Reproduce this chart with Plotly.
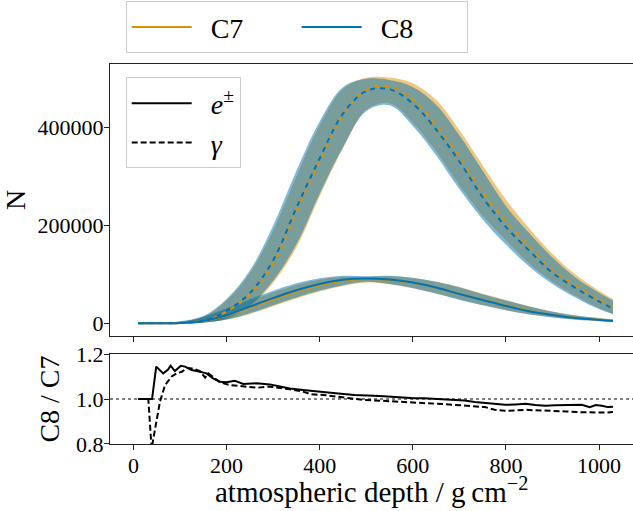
import plotly.graph_objects as go

# ---------------- data ----------------
depth = [10, 50, 100, 150, 200, 250, 300, 350, 400, 450, 500, 550,
         600, 650, 700, 750, 800, 850, 900, 950, 1000, 1030]

# photons (gamma) mean and band, C7 / C8
gamma_c7 = [0, 0, 760, 3800, 24200, 58400, 121700, 226500, 329700, 424500, 476000, 482400,
            455600, 404400, 339800, 266800, 207400, 155900, 108800, 76200, 47400, 31900]
gamma_c8 = [0, 0, 840, 4200, 25800, 61600, 128400, 235600, 336300, 427500, 474000, 477600,
            448400, 395600, 330300, 257300, 196700, 148200, 103200, 71900, 44600, 30100]
gamma_c7_hi = [0, 300, 2500, 12800, 46500, 102200, 188900, 299000, 404000, 478300, 501000, 501500,
               490000, 456000, 394500, 322800, 252600, 193800, 141700, 98900, 66500, 49400]
gamma_c7_lo = [0, 0, 190, 1600, 9300, 34600, 82300, 154900, 259400, 356800, 434900, 449200,
               409300, 350900, 281900, 220000, 169400, 122100, 84700, 55600, 30900, 19600]
gamma_c8_hi = [0, 300, 2700, 14200, 49500, 107800, 199200, 311100, 412100, 481700, 499000, 496500,
               482100, 446000, 383600, 311300, 239600, 184300, 134400, 93200, 62600, 46600]
gamma_c8_lo = [0, 0, 210, 1800, 9900, 36500, 86800, 161200, 264600, 359300, 433100, 444800,
               402800, 343200, 274100, 212100, 160700, 116000, 80400, 52400, 29100, 18400]

# electrons/positrons mean and band, C7 / C8
ele_c7 = [0, 0, 750, 4700, 15400, 31900, 48500, 64600, 77800, 87000, 90400, 88600,
          82900, 73000, 60200, 48400, 36500, 25300, 17200, 11200, 7100, 5100]
ele_c8 = [0, 0, 860, 5300, 16600, 34100, 51500, 67500, 80200, 89000, 91600, 89400,
          83100, 73000, 59900, 47600, 35500, 24700, 16800, 10800, 6900, 4900]
ele_c7_hi = [0, 530, 3450, 12600, 28700, 46200, 62800, 78300, 89300, 94900, 94700, 96000,
             92700, 84800, 73900, 60400, 47800, 34900, 24200, 16100, 10800, 7800]
ele_c7_lo = [0, 0, 180, 1600, 7200, 19100, 34700, 50600, 64800, 76300, 83500, 79500,
             71800, 60600, 48500, 37400, 27200, 18500, 12400, 7600, 4800, 3400]
ele_c8_hi = [0, 530, 3970, 14100, 30800, 49300, 66600, 81800, 92000, 97000, 96100, 97000,
             92900, 84800, 73500, 59400, 46600, 34100, 23600, 15700, 10400, 7600]
ele_c8_lo = [0, 0, 200, 1800, 7800, 20400, 36800, 52800, 66800, 77900, 84700, 80300,
             72000, 60600, 48300, 36800, 26500, 18100, 12000, 7400, 4600, 3200]

# ratio C8 / C7
ratio_e_depth = [13, 26, 36, 40, 49, 64, 74, 80, 89, 102, 111, 125, 143, 157, 171, 186, 200, 218,
                 236, 265, 293, 315, 336, 364, 385, 408, 430, 451, 475, 494, 515, 538, 560, 581,
                 603, 624, 646, 668, 690, 711, 733, 755, 776, 798, 820, 842, 863, 885, 906, 928,
                 950, 963, 980, 993, 1006, 1019, 1030]
ratio_e = [1.0, 1.0, 1.0, 1.0, 1.144, 1.114, 1.13, 1.148, 1.124, 1.148, 1.144, 1.129, 1.121, 1.114,
           1.092, 1.077, 1.074, 1.081, 1.067, 1.07, 1.065, 1.055, 1.047, 1.04, 1.035, 1.029, 1.025,
           1.022, 1.018, 1.015, 1.014, 1.012, 1.008, 1.004, 1.003, 1.003, 1.001, 1.0, 0.998, 0.993,
           0.987, 0.982, 0.978, 0.974, 0.976, 0.979, 0.973, 0.97, 0.972, 0.973, 0.974, 0.974, 0.964,
           0.973, 0.97, 0.964, 0.966]
ratio_g_depth = [10, 20, 32, 39, 50, 57, 68, 82, 93, 104, 115, 126, 143, 154, 161, 175, 186, 207,
                 236, 265, 293, 315, 336, 364, 382, 408, 430, 451, 473, 494, 516, 538, 560, 581,
                 603, 624, 646, 668, 690, 711, 733, 755, 776, 798, 820, 842, 863, 885, 906, 928,
                 950, 971, 993, 1015, 1030]
ratio_g = [1.0, 1.0, 1.0, 0.78, 0.9, 0.988, 1.062, 1.1, 1.114, 1.121, 1.138, 1.136, 1.124, 1.095,
           1.114, 1.092, 1.074, 1.062, 1.055, 1.05, 1.055, 1.05, 1.043, 1.033, 1.021, 1.018, 1.012,
           1.007, 1.002, 0.996, 0.994, 0.992, 0.989, 0.986, 0.984, 0.982, 0.98, 0.977, 0.974, 0.97,
           0.967, 0.964, 0.952, 0.948, 0.949, 0.952, 0.95, 0.949, 0.947, 0.945, 0.942, 0.94, 0.94,
           0.94, 0.942]

x_ticks = [0, 200, 400, 600, 800, 1000]
n_ticks = [0, 200000, 400000]
ratio_ticks = [0.8, 1.0, 1.2]

# ---------------- styling ----------------
ORANGE = "#DE8F05"
BLUE = "#0173B2"
ORANGE_FILL = "rgba(222,143,5,0.5)"
BLUE_FILL = "rgba(1,115,178,0.5)"
FONT = "Liberation Serif"

fig = go.Figure()


def add_band(lo, hi, fill):
    fig.add_trace(go.Scatter(x=depth, y=lo, mode="lines", line=dict(width=0, shape="spline"),
                             showlegend=False, hoverinfo="skip", xaxis="x", yaxis="y"))
    fig.add_trace(go.Scatter(x=depth, y=hi, mode="lines", line=dict(width=0, shape="spline"),
                             fill="tonexty", fillcolor=fill, showlegend=False, hoverinfo="skip",
                             xaxis="x", yaxis="y"))


add_band(ele_c7_lo, ele_c7_hi, ORANGE_FILL)
add_band(gamma_c7_lo, gamma_c7_hi, ORANGE_FILL)
add_band(ele_c8_lo, ele_c8_hi, BLUE_FILL)
add_band(gamma_c8_lo, gamma_c8_hi, BLUE_FILL)

# mean lines
fig.add_trace(go.Scatter(x=depth, y=ele_c7, mode="lines", line=dict(color=ORANGE, width=2, shape="spline"),
                         showlegend=False, xaxis="x", yaxis="y"))
fig.add_trace(go.Scatter(x=depth, y=gamma_c7, mode="lines",
                         line=dict(color=ORANGE, width=2, shape="spline", dash="0px,5px,5px,0px"),
                         showlegend=False, xaxis="x", yaxis="y"))
fig.add_trace(go.Scatter(x=depth, y=ele_c8, mode="lines", line=dict(color=BLUE, width=2, shape="spline"),
                         showlegend=False, xaxis="x", yaxis="y"))
fig.add_trace(go.Scatter(x=depth, y=gamma_c8, mode="lines",
                         line=dict(color=BLUE, width=2, shape="spline", dash="5px,5px"),
                         showlegend=False, xaxis="x", yaxis="y"))

# ratio panel
fig.add_trace(go.Scatter(x=ratio_e_depth, y=ratio_e, mode="lines", line=dict(color="black", width=2),
                         showlegend=False, xaxis="x2", yaxis="y2"))
fig.add_trace(go.Scatter(x=ratio_g_depth, y=ratio_g, mode="lines",
                         line=dict(color="black", width=2, dash="6px,3px"),
                         showlegend=False, xaxis="x2", yaxis="y2"))

# legend entries
fig.add_trace(go.Scatter(x=[None], y=[None], mode="lines", line=dict(color=ORANGE, width=2),
                         name="\u2002C7", legend="legend", xaxis="x", yaxis="y"))
fig.add_trace(go.Scatter(x=[None], y=[None], mode="lines", line=dict(color=BLUE, width=2),
                         name="\u2002C8", legend="legend", xaxis="x", yaxis="y"))
fig.add_trace(go.Scatter(x=[None], y=[None], mode="lines", line=dict(color="black", width=2),
                         name="\u2002<i>e</i><sup>±</sup>", legend="legend2", xaxis="x", yaxis="y"))
fig.add_trace(go.Scatter(x=[None], y=[None], mode="lines", line=dict(color="black", width=2, dash="6px,3px"),
                         name="\u2002<i>γ</i>", legend="legend2", xaxis="x", yaxis="y"))

# horizontal reference line at 1
fig.add_shape(type="line", xref="x2 domain", x0=0, x1=1, yref="y2", y0=1, y1=1,
              line=dict(color="black", width=1, dash="dot"), layer="below")

axis_common = dict(showgrid=False, zeroline=False, showline=True, linecolor="#222", linewidth=1.2,
                   ticks="outside", ticklen=5, tickwidth=1.2, tickcolor="#222",
                   tickfont=dict(family=FONT, size=22, color="black"))

# x-axis title placed as an annotation below the ratio panel
fig.add_annotation(text="atmospheric depth / g\u2009cm<sup>−2</sup>", xref="paper", yref="paper",
                   x=0.5, y=-0.122, xanchor="center", yanchor="middle", showarrow=False,
                   font=dict(family=FONT, size=29, color="black"))

fig.update_layout(
    width=633, height=511,
    margin=dict(l=110, r=0, t=64, b=67, autoexpand=False),
    paper_bgcolor="white", plot_bgcolor="white",
    font=dict(family=FONT, color="black"),
    xaxis=dict(domain=[0, 1], anchor="y", range=[-50.3, 1073], tickvals=x_ticks,
               showticklabels=False, mirror=True, matches="x2", **axis_common),
    yaxis=dict(domain=[0.2842, 1], anchor="x", range=[-25900, 529200], tickvals=n_ticks,
               tickformat="d", ticklabelstandoff=-4,
               title=dict(text="N", font=dict(family=FONT, size=28), standoff=12), **axis_common),
    xaxis2=dict(domain=[0, 1], anchor="y2", range=[-50.3, 1073], tickvals=x_ticks, mirror=True,
                ticklabelstandoff=-4, **axis_common),
    yaxis2=dict(domain=[0, 0.2368], anchor="x2", range=[0.8, 1.2], tickvals=ratio_ticks,
                tickformat=".1f", ticklabelstandoff=-4,
                title=dict(text="C8 / C7", font=dict(family=FONT, size=28), standoff=8), **axis_common),
    legend=dict(orientation="h", x=0.03, y=1.165, xanchor="left", yanchor="top",
                traceorder="normal",
                bgcolor="rgba(255,255,255,0.8)", bordercolor="#cccccc", borderwidth=1,
                font=dict(family=FONT, size=28), entrywidth=95, itemwidth=60),
    legend2=dict(orientation="v", x=0.03, y=0.9645, xanchor="left", yanchor="top",
                 traceorder="normal",
                 bgcolor="rgba(255,255,255,0.8)", bordercolor="#cccccc", borderwidth=1,
                 font=dict(family=FONT, size=28), itemwidth=60),
)

fig.write_html("out.html", config={"displayModeBar": False},
               post_script="document.body.style.margin='0px';")
